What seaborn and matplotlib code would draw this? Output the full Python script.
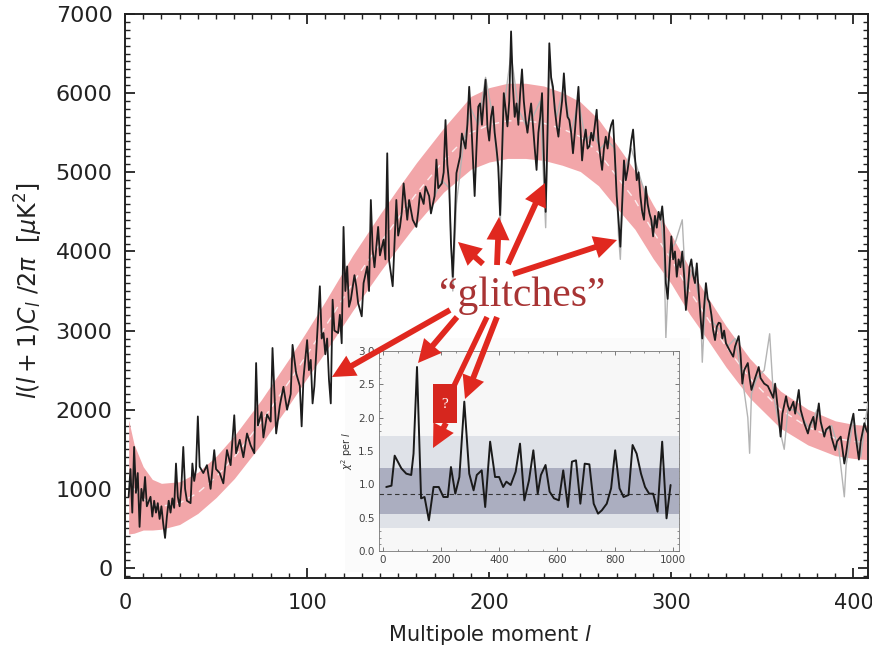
import numpy as np
import pandas as pd
import matplotlib
matplotlib.use("Agg")
import matplotlib.pyplot as plt
import seaborn as sns
from matplotlib.patches import Rectangle, FancyArrowPatch
from matplotlib.lines import Line2D
from matplotlib.ticker import MultipleLocator

sns.set_style("ticks")
plt.rcParams['font.family'] = ['DejaVu Sans']

# ---------------- data ----------------
black_points = [(2,900),(3,1250),(4,700),(5,1530),(6,950),(7,1200),(8,520),(9,1000),(10,850),(11,1150),(12,780),(14,900),(15,650),(16,850),(17,700),(18,820),(19,620),(20,780),(21,560),(22,380),(23,650),(24,850),(25,700),(26,880),(27,760),(28,1320),(29,900),(30,780),(31,1050),(32,1530),(33,1000),(34,850),(36,820),(37,1320),(38,1100),(39,1250),(40,1915),(41,1280),(43,1200),(45,1300),(47,1000),(49,1490),(50,1250),(52,1200),(54,1070),(56,1490),(58,1300),(60,1930),(61,1450),(63,1620),(65,1400),(67,1700),(69,1550),(71,1450),(72,2590),(73,1800),(75,1970),(76,1650),(78,1940),(80,1850),(81,2780),(83,1700),(85,2050),(87,2290),(89,2000),(91,2200),(92,2820),(94,2460),(96,2300),(97,1790),(98,2400),(100,2880),(101,2500),(102,2630),(103,2080),(104,2300),(106,3130),(107,3560),(108,2900),(109,2970),(110,2700),(111,2900),(112,2380),(113,2080),(114,3390),(115,3000),(117,2970),(118,3200),(119,2840),(120,4310),(121,3500),(122,3810),(123,3300),(124,3390),(126,3700),(127,3560),(128,3350),(130,3180),(131,3600),(133,3810),(134,3500),(135,4650),(136,4020),(137,3800),(139,4310),(140,3950),(142,4150),(143,3900),(144,5240),(145,3890),(147,3560),(148,4100),(149,4650),(150,4200),(151,4310),(152,4500),(153,4860),(155,4400),(156,4650),(158,4400),(160,4310),(161,4500),(162,4740),(164,4600),(165,4820),(167,4700),(168,4480),(170,4700),(171,5160),(172,4800),(174,4860),(175,5000),(176,5660),(177,5100),(178,4860),(179,4100),(180,3680),(181,4300),(182,4990),(184,5200),(185,5490),(187,5300),(188,5600),(189,6080),(190,5700),(191,5200),(192,4700),(193,5300),(194,5830),(195,5870),(196,5600),(197,5900),(198,6170),(199,5580),(200,5400),(201,5700),(202,5830),(203,5500),(204,5300),(205,5070),(206,4460),(207,5200),(208,6000),(209,5800),(210,5580),(211,5900),(212,6780),(213,6080),(214,5700),(215,5870),(216,5600),(217,6000),(218,6300),(219,5900),(220,5660),(221,5500),(222,5700),(223,5870),(224,5600),(225,5300),(226,5030),(227,5500),(228,5700),(229,6000),(230,5200),(231,4500),(232,5500),(233,6630),(234,6200),(235,6080),(236,5800),(237,5600),(238,5450),(239,5700),(240,5900),(241,6250),(242,5900),(243,5700),(244,5660),(245,5500),(246,5240),(247,5500),(248,5800),(249,6080),(250,5600),(251,5150),(252,5400),(253,5540),(254,5300),(255,5330),(256,5500),(257,5400),(258,5600),(259,5790),(260,5400),(261,5200),(262,5030),(263,5300),(264,5450),(265,5300),(266,5500),(267,5600),(268,5660),(269,5200),(270,4700),(271,4400),(272,4060),(273,4600),(274,5150),(275,4900),(276,5030),(277,5200),(278,5400),(279,5540),(280,5200),(281,4900),(282,5000),(283,4700),(284,4500),(285,4400),(286,4820),(287,4600),(288,4480),(289,4400),(290,4190),(291,4450),(292,4300),(293,4500),(294,4400),(295,4570),(296,4300),(297,3600),(298,3400),(300,4190),(301,3900),(302,4000),(303,3680),(304,3900),(305,3800),(306,4000),(307,3700),(308,3260),(309,3500),(310,3800),(311,3900),(312,3700),(313,3600),(314,3850),(315,3500),(316,3180),(317,2900),(318,3300),(319,3600),(320,3400),(321,3350),(322,3200),(323,3000),(324,2880),(325,3050),(326,3100),(327,3090),(328,2900),(329,3000),(330,2840),(332,2750),(334,2670),(335,2800),(337,2930),(338,2700),(339,2330),(340,2500),(342,2590),(343,2400),(344,2250),(346,2400),(348,2540),(349,2400),(351,2330),(353,2300),(354,2250),(356,2150),(357,2330),(359,1900),(360,1660),(361,1950),(363,2170),(364,2050),(365,1990),(367,2100),(368,1950),(370,2250),(371,2000),(373,1830),(375,1700),(376,1800),(378,1910),(379,1750),(381,2080),(382,1850),(384,1660),(385,1750),(387,1790),(388,1650),(390,1490),(391,1600),(393,1660),(394,1500),(395,1320),(396,1450),(397,1620),(398,1750),(400,1950),(401,1700),(403,1370),(404,1600),(406,1830),(407,1750),(408,1700),(409,1800),(410,1650)]

grey_points = [(170,4700),(174,4900),(178,4800),(180,3500),(182,4600),(186,5400),(190,5800),(194,5600),(198,6200),(202,5700),(205,5000),(206,4300),(208,5800),(212,6500),(216,5800),(220,5600),(224,5700),(228,5900),(231,4300),(233,6300),(237,5700),(241,6100),(245,5500),(249,5900),(253,5400),(257,5500),(261,5300),(265,5400),(269,5300),(271,4200),(272,3900),(274,5000),(278,5300),(282,5000),(286,4700),(290,4300),(294,4500),(296,4000),(297,2900),(299,4000),(302,4100),(306,4400),(308,3500),(312,3800),(316,3300),(317,2600),(319,3500),(323,3100),(327,3000),(331,2800),(335,2900),(339,2400),(342,1900),(343,1450),(344,2200),(347,2400),(351,2500),(354,2960),(356,2200),(360,1700),(362,1500),(364,2000),(368,2000),(372,1900),(376,1750),(380,2000),(384,1700),(388,1800),(392,1500),(394,1100),(395,900),(396,1300),(400,1900),(404,1400),(408,2100),(410,1700)]

band_l  = [2, 5, 10, 15, 20, 30, 40, 50, 60, 75, 90, 100, 110, 125, 140, 150, 160, 175, 190, 200, 210, 220, 230, 240, 250, 260, 270, 280, 290, 300, 310, 320, 330, 343, 360, 375, 390, 400, 410]
band_mid = [1150, 1000, 880, 800, 780, 820, 950, 1150, 1400, 1850, 2350, 2700, 3050, 3600, 4100, 4420, 4730, 5150, 5500, 5600, 5650, 5650, 5620, 5550, 5450, 5250, 4950, 4650, 4250, 3900, 3500, 3150, 2800, 2400, 2000, 1780, 1640, 1600, 1580]
band_lo = [430, 440, 480, 480, 490, 550, 690, 890, 1130, 1570, 2060, 2400, 2730, 3250, 3740, 4050, 4350, 4750, 5040, 5130, 5175, 5175, 5150, 5090, 5010, 4830, 4550, 4280, 3910, 3590, 3210, 2880, 2540, 2150, 1765, 1555, 1420, 1385, 1365]
band_hi = [1870, 1560, 1280, 1120, 1070, 1090, 1210, 1410, 1670, 2130, 2640, 3000, 3370, 3950, 4470, 4800, 5120, 5560, 5960, 6070, 6125, 6125, 6090, 6010, 5890, 5670, 5350, 5020, 4590, 4210, 3790, 3420, 3060, 2650, 2235, 2005, 1860, 1815, 1795]

chi_l = [11, 29, 40, 63, 80, 97, 105, 117, 131, 143, 158, 174, 192, 208, 223, 234, 249, 263, 280, 297, 312, 323, 340, 352, 369, 386, 400, 414, 425, 440, 457, 472, 487, 503, 518, 533, 544, 560, 574, 589, 606, 621, 637, 651, 665, 680, 695, 711, 726, 741, 754, 771, 786, 800, 815, 829, 846, 860, 874, 889, 903, 917, 931, 946, 962, 977, 991]
chi_v = [0.96, 0.98, 1.43, 1.24, 1.16, 1.14, 1.46, 2.76, 0.79, 0.81, 0.46, 0.96, 0.96, 0.81, 0.81, 1.26, 0.86, 1.11, 2.24, 1.16, 0.91, 1.14, 1.21, 0.66, 1.64, 1.11, 1.11, 0.96, 1.04, 0.99, 1.19, 1.61, 0.76, 1.06, 1.51, 0.86, 1.14, 1.29, 0.89, 0.79, 0.76, 1.21, 0.66, 1.34, 1.36, 0.71, 1.31, 1.30, 0.71, 0.56, 0.61, 0.71, 0.94, 1.51, 0.94, 0.81, 0.84, 1.59, 1.46, 1.16, 0.96, 0.86, 0.86, 0.59, 1.64, 0.49, 0.99]
chi_mean = 0.86
chi_outer = (0.35, 1.73)
chi_inner = (0.55, 1.25)

x_ticks = [0, 100, 200, 300, 400]
y_ticks = [0, 1000, 2000, 3000, 4000, 5000, 6000, 7000]
inset_xticks = [0, 200, 400, 600, 800, 1000]
inset_yticks = [0.0, 0.5, 1.0, 1.5, 2.0, 2.5, 3.0]

black_df = pd.DataFrame(black_points, columns=["l", "v"])
grey_df = pd.DataFrame(grey_points, columns=["l", "v"])
chi_df = pd.DataFrame({"l": chi_l, "v": chi_v})

# ---------------- figure ----------------
W, H = 872, 654
fig = plt.figure(figsize=(W / 100, H / 100), dpi=100)
fig.patch.set_facecolor("white")

def fx(px):
    return px / W

def fy(py):
    return 1 - py / H

ax = fig.add_axes([fx(125), fy(578), (868 - 125) / W, (578 - 14) / H])
ax.set_facecolor("white")

ax.fill_between(band_l, band_lo, band_hi, color="#f2a6a9", lw=0, zorder=1)
ax.plot(band_l, band_mid, color="white", lw=1.0, ls=(0, (5, 4)), alpha=0.8, zorder=2)
sns.lineplot(data=grey_df, x="l", y="v", ax=ax, color="#b4b4b4", lw=1.0,
             estimator=None, sort=False, zorder=3)
sns.lineplot(data=black_df, x="l", y="v", ax=ax, color="#1c1c1c", lw=1.3,
             estimator=None, sort=False, zorder=4)

ax.set_xlim(0, 408)
ax.set_ylim(-126, 7000)
ax.set_xticks(x_ticks)
ax.set_yticks(y_ticks)
ax.xaxis.set_minor_locator(MultipleLocator(10))
ax.yaxis.set_minor_locator(MultipleLocator(100))
ax.tick_params(which="both", direction="in", top=True, right=True, colors="#222")
ax.tick_params(which="major", length=7, width=1.3)
ax.tick_params(which="minor", length=3.5, width=1.0)
ax.tick_params(axis="y", labelsize=16, pad=9)
ax.tick_params(axis="x", labelsize=15, pad=11)
for s in ax.spines.values():
    s.set_linewidth(1.4)
    s.set_color("#222")

ax.set_xlabel("Multipole moment $l$", fontsize=15, color="#222")
ax.xaxis.set_label_coords(0.491, -0.08)
ax.set_ylabel(r"$l(l+1)C_l\ /2\pi\ \ [\mu\mathrm{K}^2]$", fontsize=17, color="#222")
ax.yaxis.set_label_coords(-0.108, 0.51)

# inset panel background
fig.add_artist(Rectangle((fx(345), fy(572)), 345 / W, 234 / H, transform=fig.transFigure,
                         facecolor="#fbfbfb", edgecolor="none", zorder=2))

axi = fig.add_axes([fx(379), fy(551), 300 / W, 200 / H], zorder=3)
axi.set_facecolor("#f7f7f7")
axi.axhspan(*chi_outer, color="#dfe2e8", lw=0)
axi.axhspan(*chi_inner, color="#abaec0", lw=0)
axi.axhline(chi_mean, color="#333", lw=0.8, ls=(0, (4, 3)))
sns.lineplot(data=chi_df, x="l", y="v", ax=axi, color="#1a1a1a", lw=1.4,
             estimator=None, sort=False)
axi.set_xlim(-14, 1020)
axi.set_ylim(0, 3.0)
axi.set_xticks(inset_xticks)
axi.set_yticks(inset_yticks)
axi.set_yticklabels([f"{v:.1f}" for v in inset_yticks])
axi.xaxis.set_minor_locator(MultipleLocator(50))
axi.yaxis.set_minor_locator(MultipleLocator(0.1))
axi.tick_params(which="both", direction="in", top=True, right=True, colors="#666",
                labelsize=7.5, labelcolor="#444", pad=3)
axi.tick_params(which="major", length=3, width=0.6)
axi.tick_params(which="minor", length=1.5, width=0.5)
for s in axi.spines.values():
    s.set_linewidth(0.6)
    s.set_color("#777")
axi.set_xlabel("")
axi.set_ylabel(r"$\chi^2$ per $l$", fontsize=7, color="#333", labelpad=2)

# ---------------- annotations ----------------
RED = "#e0281f"

def arrow(p0, p1):
    a = FancyArrowPatch((fx(p0[0]), fy(p0[1])), (fx(p1[0]), fy(p1[1])),
                        transform=fig.transFigure,
                        arrowstyle="simple,head_length=0.55,head_width=0.55,tail_width=0.14",
                        mutation_scale=30, facecolor=RED, edgecolor="none",
                        shrinkA=0, shrinkB=0, zorder=6)
    fig.add_artist(a)

arrow((450, 310), (332, 377))
arrow((457, 317), (418, 363))
arrow((497, 317), (465, 399))
arrow((483, 264), (458, 242))
arrow((497, 265), (499, 217))
arrow((508, 264), (545, 183))
arrow((513, 274), (617, 240))
fig.add_artist(Line2D([fx(487), fx(453)], [fy(317), fy(388)], transform=fig.transFigure,
                      color=RED, lw=3.9, solid_capstyle="butt", zorder=6))
arrow((446, 423), (433, 448))

fig.add_artist(Rectangle((fx(433), fy(423)), 24 / W, 39 / H, transform=fig.transFigure,
                         facecolor="#d6261e", edgecolor="none", zorder=7))
fig.text(fx(445), fy(404), "?", color="white", fontsize=11, family="Liberation Serif",
         ha="center", va="center", zorder=8)

fig.text(fx(522), fy(296), "\u201cglitches\u201d", color="#a83434", fontsize=30,
         family="Liberation Serif", ha="center", va="center", zorder=8)

fig.savefig("out.png", dpi=100)
